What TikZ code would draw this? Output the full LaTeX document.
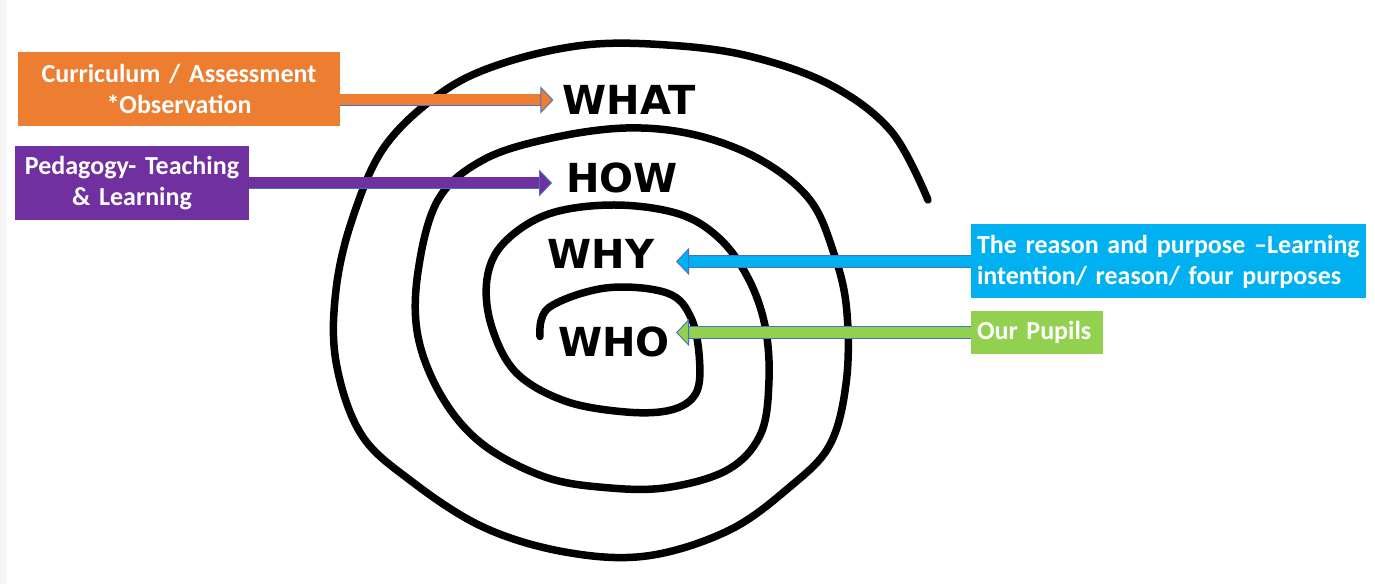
\documentclass[tikz,border=0pt]{standalone}
\usepackage{fontspec}
\usepackage{tikz}
\usetikzlibrary{arrows.meta}
\newfontfamily\boxfont{Carlito}
\newfontfamily\wordfont{DejaVu Sans}
\definecolor{boxorange}{RGB}{237,125,49}
\definecolor{boxpurple}{RGB}{112,48,160}
\definecolor{boxblue}{RGB}{0,176,240}
\definecolor{boxgreen}{RGB}{146,208,80}
\definecolor{arrowedge}{RGB}{68,114,196}
\definecolor{stripgray}{RGB}{245,245,245}

\begin{document}
\begin{tikzpicture}[line join=round,
  box/.style={fill=#1,text=white,font=\boxfont\bfseries\fontsize{26bp}{31bp}\selectfont,minimum height=74bp,inner xsep=6bp,inner ysep=0pt},
  word/.style={font=\wordfont\bfseries\fontsize{40bp}{40bp}\selectfont,inner ysep=0pt},
  blockarrow/.style={line width=11bp,draw=#1,-{Triangle[length=13bp,width=27bp,fill=#1,color=arrowedge,line width=0.9bp]},
    preaction={draw=arrowedge,line width=12.8bp,arrows=-,shorten >=12.5bp}},
  spiral/.style={line width=7.5bp,line cap=round,black}]
%%
\useasboundingbox (0bp,0bp) rectangle (1375bp,584bp);
\fill [stripgray] (0bp,0bp) rectangle (7bp,584bp);
\node (cur) at (179bp,495bp) [box=boxorange,text width=310bp,align=center] {Curriculum / Assessment\\{}*Observation};
  \node (ped) at (132bp,401bp) [box=boxpurple,text width=222bp,align=center] {Pedagogy- Teaching\\\& Learning};
  \node (reason) at (1168.5bp,322.5bp) [box=boxblue,text width=383bp,align=left] {The reason and purpose –Learning\\intention/ reason/ four purposes};
  \node (pupils) at (1037bp,251.5bp) [box=boxgreen,text width=120bp,align=left,minimum height=43bp] {Our Pupils};
  \node (what) at (629bp,484bp) [word,inner xsep=9bp] {WHAT};
  \node (how) at (622bp,406bp) [word,inner xsep=14bp] {HOW};
  \node (why) at (601bp,330bp) [word] {WHY};
  \node (who) at (614bp,242bp) [word,inner xsep=6bp] {WHO};
  \draw [spiral] plot [smooth,tension=0.6] coordinates {(540bp,247.5bp) (548.6bp,276.2bp) (605.7bp,296bp) (667bp,291bp)
    (691.4bp,265.4bp) (699.6bp,222.3bp) (695.5bp,190bp) (671bp,174bp) (626bp,172bp) (565bp,183bp) (516bp,211.5bp)
    (491.4bp,258.2bp) (487bp,305bp) (503.7bp,341bp) (548.6bp,370bp) (614bp,379bp) (679bp,370bp) (720bp,345bp)
    (748.6bp,305bp) (765bp,258.2bp) (769bp,204.3bp) (760.8bp,150.3bp) (728bp,114.4bp) (667bp,96.4bp) (605.7bp,96.4bp)
    (544.5bp,107.2bp) (483bp,139.5bp) (442.4bp,186.3bp) (418bp,247.5bp) (418bp,312.2bp) (438bp,384.1bp) (483bp,424bp)
    (548.6bp,445.3bp) (626bp,456bp) (695.5bp,449bp) (760.8bp,424bp) (810bp,384bp) (834bp,330.2bp) (846.5bp,276.2bp)
    (846.5bp,204.3bp) (830bp,139.5bp) (789bp,96.4bp) (728bp,53.2bp) (646.5bp,28bp) (565bp,32bp) (483bp,57bp)
    (409.8bp,104bp) (360.8bp,150.3bp) (336bp,222.3bp) (336bp,294.2bp) (352.7bp,366.2bp) (385bp,438bp) (442.4bp,492bp)
    (503.7bp,521bp) (585bp,539bp) (667bp,539bp) (748.6bp,528bp) (830bp,499.3bp) (891.4bp,452.5bp) (928bp,384bp)};
  \draw [blockarrow=boxorange] (what.west -| cur.east) -- (what.west);
  \draw [blockarrow=boxpurple] (ped.east) -- (ped.east -| how.west);
  \draw [blockarrow=boxblue] (reason.west) -- (reason.west -| who.east);
  \draw [blockarrow=boxgreen] (pupils.west) -- (pupils.west -| who.east);
%
\end{tikzpicture}
\end{document}
